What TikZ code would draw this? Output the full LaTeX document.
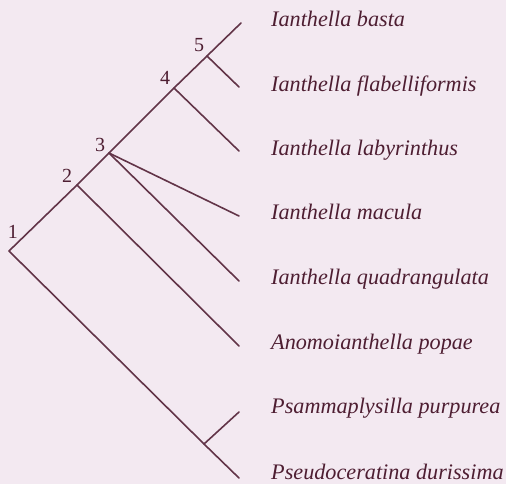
\documentclass[tikz,border=0pt]{standalone}
\usepackage{fontspec}
\setmainfont{Liberation Serif}
\definecolor{bg}{RGB}{243,233,241}
\definecolor{ln}{RGB}{98,52,72}
\definecolor{tx}{RGB}{78,30,50}
\begin{document}
\begin{tikzpicture}[x=1pt,y=-1pt,
  branch/.style={draw=ln,line width=1.6pt,line cap=round,line join=round},
  taxon/.style={anchor=mid west,inner sep=0pt,text=tx,font=\fontsize{22.2}{24}\selectfont\itshape},
  num/.style={inner sep=0pt,text=tx,font=\fontsize{20}{22}\selectfont}]
\fill[bg] (0,0) rectangle (506,484);
\useasboundingbox (0,0) rectangle (506,484);
% internal nodes
\coordinate (r) at (9,251);
\coordinate (n2) at (77,185);
\coordinate (n3) at (109,153);
\coordinate (n4) at (174,88);
\coordinate (n5) at (207,56);
\coordinate (n6) at (204,444);
% tips
\coordinate (t1) at (241,23);
\coordinate (t2) at (239,87);
\coordinate (t3) at (239,151);
\coordinate (t4) at (239,216);
\coordinate (t5) at (239,281);
\coordinate (t6) at (239,346);
\coordinate (t7) at (239,412);
\coordinate (t8) at (239,478);
% branches
\draw[branch] (t1) -- (n5) -- (n4) -- (n3) -- (n2) -- (r) -- (n6) -- (t8);
\draw[branch] (n5) -- (t2);
\draw[branch] (n4) -- (t3);
\draw[branch] (n3) -- (t4);
\draw[branch] (n3) -- (t5);
\draw[branch] (n2) -- (t6);
\draw[branch] (n6) -- (t7);
% numbers
\node[num] (l1) at (13,232) {1};
\node[num] (l2) at (67,176) {2};
\node[num] (l3) at (100,145) {3};
\node[num] (l4) at (165,78) {4};
\node[num] (l5) at (199,45) {5};
% labels
\node[taxon] (a1) at (271,24) {Ianthella basta};
\node[taxon] (a2) at (271,89) {Ianthella flabelliformis};
\node[taxon] (a3) at (271,153) {Ianthella labyrinthus};
\node[taxon] (a4) at (271,217) {Ianthella macula};
\node[taxon] (a5) at (271,282) {Ianthella quadrangulata};
\node[taxon] (a6) at (271,347) {Anomoianthella popae};
\node[taxon] (a7) at (271,411) {Psammaplysilla purpurea};
\node[taxon] (a8) at (271,477) {Pseudoceratina durissima};
\end{tikzpicture}
\end{document}
